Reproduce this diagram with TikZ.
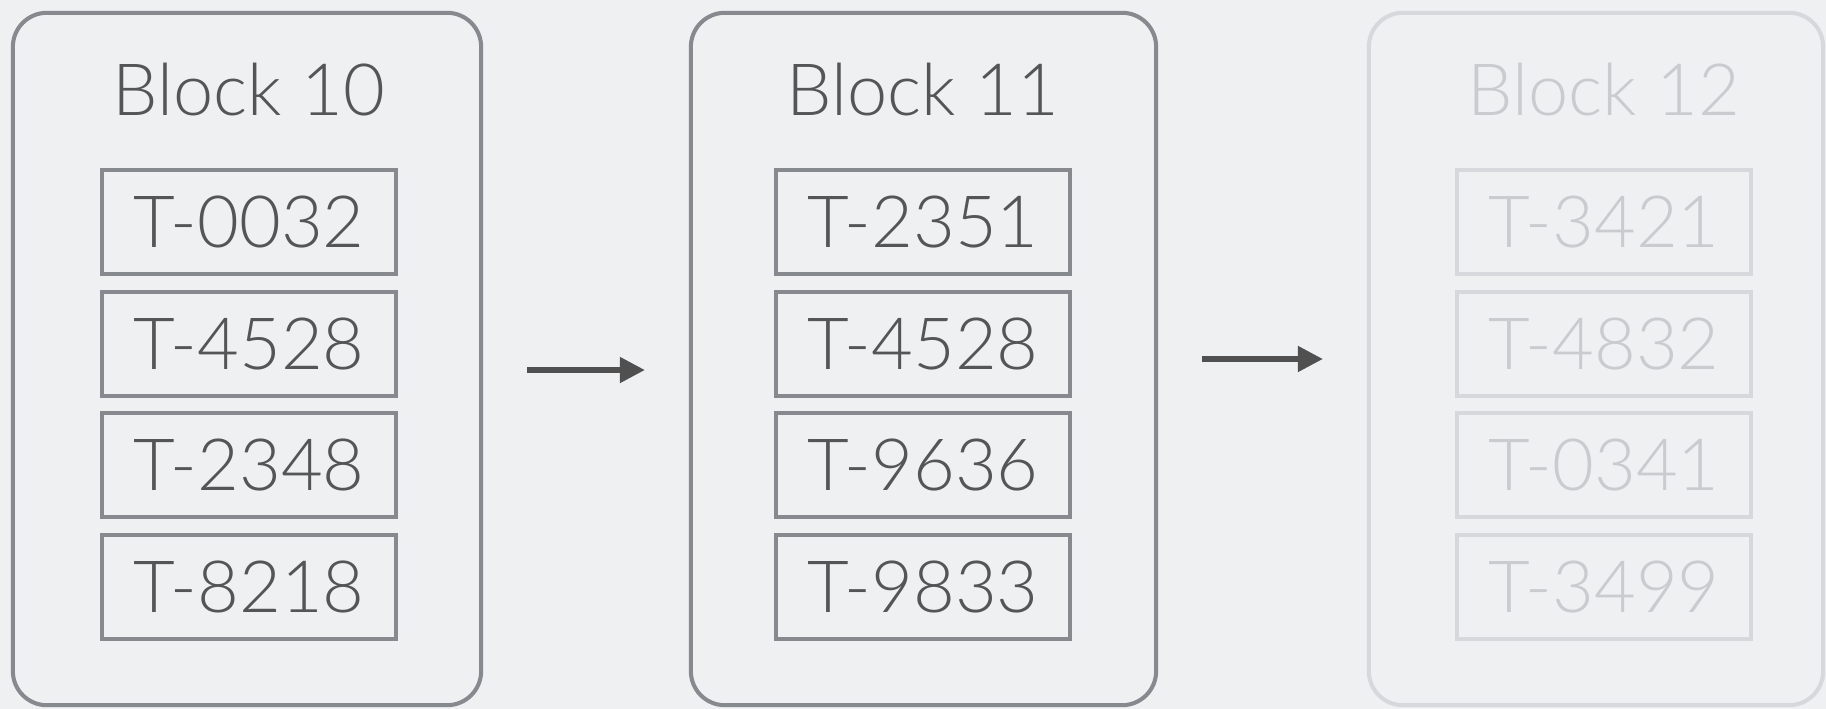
\documentclass[tikz,border=0pt]{standalone}
\usepackage{fontspec}
\setmainfont{Lato}[UprightFont=* Light]
\usetikzlibrary{arrows.meta,positioning}

\definecolor{bgpaper}{HTML}{EEF0F2}
\definecolor{edgelive}{HTML}{86898D}
\definecolor{inklive}{HTML}{555555}
\definecolor{edgefade}{HTML}{D6D8DB}
\definecolor{inkfade}{HTML}{C9CBCE}
\definecolor{arrowgray}{HTML}{505050}

\tikzset{
  blockbox/.style={line width=1.15pt, rounded corners=0.34cm,
    minimum height=6.92cm, inner sep=0pt},
  txbox/.style={line width=1.15pt, minimum width=2.94cm, minimum height=1.04cm,
    inner sep=0pt, font=\fontsize{20.5}{24}\selectfont},
  blocktitle/.style={anchor=base, inner sep=0pt, font=\fontsize{20.5}{24}\selectfont},
  flow/.style={draw=arrowgray, line width=1.45pt,
    -{Triangle[length=0.25cm,width=0.25cm]},
    shorten <=0.44cm, shorten >=0.44cm},
}

\begin{document}
\begin{tikzpicture}[x=0.01cm, y=-0.01cm]
  \clip (0,0) rectangle (1826,709);
  \fill[bgpaper] (0,0) rectangle (1826,709);

  % one column per block: box centre/width, content centre
  \foreach \bx/\bw/\cx/\num/\ta/\tb/\tc/\td/\look in
      {247/4.68/249/10/0032/4528/2348/8218/live,
       923.5/4.65/923/11/2351/4528/9636/9833/live,
       1596/4.54/1604/12/3421/4832/0341/3499/fade}
  {
    \node[blockbox, minimum width=\bw cm, draw=edge\look] (blk\num) at (\bx,359) {};
    \node[blocktitle, text=ink\look] (title\num) at (\cx,115) {Block \num};
    \foreach \t [count=\i] in {\ta,\tb,\tc,\td}
      \node[txbox, draw=edge\look, text=ink\look] (tx\num-\i)
        at (\cx,{222+121.7*(\i-1)}) {T-\t};
  }

  \draw[flow] ([yshift=-0.11cm]blk10.east) -- ([yshift=-0.11cm]blk11.west);
  \draw[flow] (blk11.east) -- (blk12.west);
\end{tikzpicture}
\end{document}
